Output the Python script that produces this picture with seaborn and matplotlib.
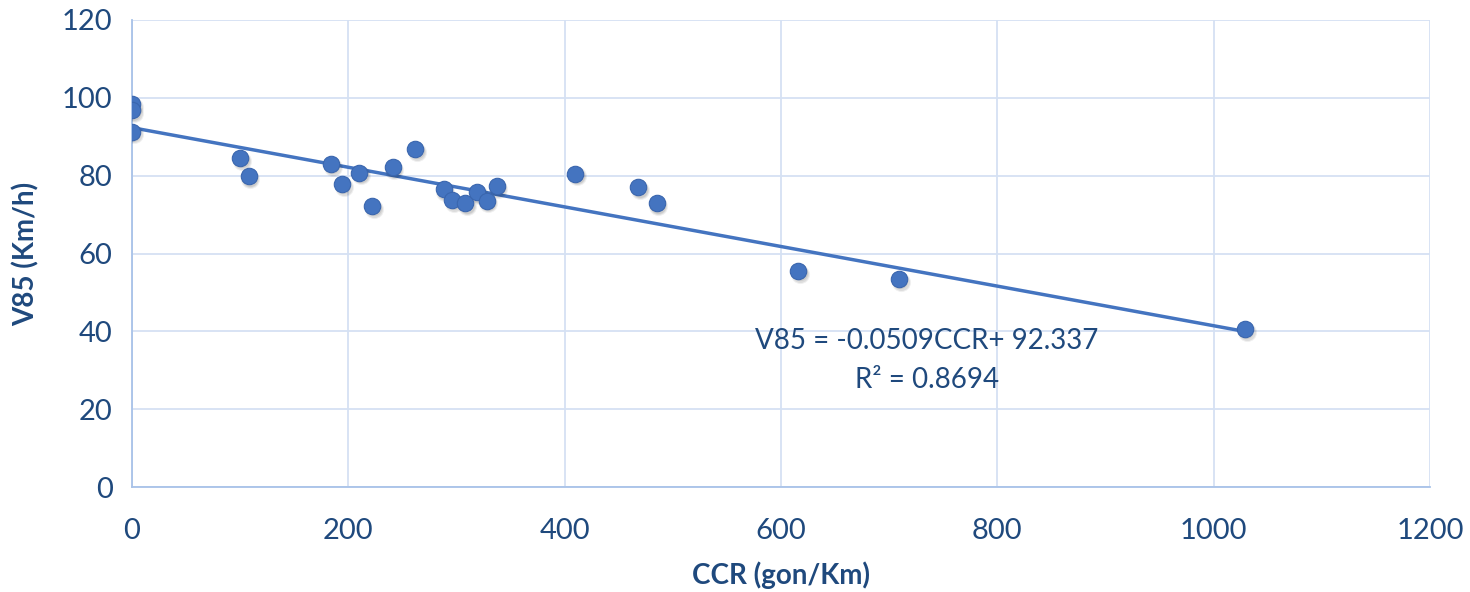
import matplotlib
matplotlib.use("Agg")
import matplotlib.pyplot as plt
import matplotlib.transforms as mtransforms
import numpy as np
import pandas as pd
import seaborn as sns

# ---- data ----
ccr = [0, 0, 0, 100, 108, 184, 194, 210, 222, 241, 262, 288, 296, 308, 319, 328, 337,
       410, 468, 485, 616, 709, 1029]
v85 = [98.4, 96.8, 91.3, 84.5, 79.8, 83.0, 77.8, 80.8, 72.2, 82.1, 86.9, 76.5, 73.8,
       72.9, 75.7, 73.6, 77.4, 80.5, 77.0, 72.9, 55.5, 53.5, 40.6]
slope = -0.0509
intercept = 92.337
r2 = 0.8694
x_ticks = [0, 200, 400, 600, 800, 1000, 1200]
y_ticks = [0, 20, 40, 60, 80, 100, 120]

df = pd.DataFrame({"CCR": ccr, "V85": v85})
fit_x = np.array([min(ccr), max(ccr)], dtype=float)
fit_df = pd.DataFrame({"CCR": fit_x, "V85": intercept + slope * fit_x})

sns.set_theme(style="white")
plt.rcParams["font.family"] = ["Lato", "DejaVu Sans"]

text_color = "#1F497D"
point_color = "#4474C0"
grid_color = "#D5E1F3"

fig = plt.figure(figsize=(14.7, 5.92), dpi=100)
ax = fig.add_axes([132 / 1470, 1 - 487 / 592, (1430 - 132) / 1470, (487 - 20) / 592])

# trendline
sns.lineplot(data=fit_df, x="CCR", y="V85", ax=ax, color=point_color, linewidth=2.5, zorder=3)

# soft shadow of markers
for dx, dy, s, a in [(1.2, -2.0, 190, 0.06), (1.2, -2.0, 150, 0.08), (1.0, -1.6, 120, 0.08)]:
    tr = mtransforms.offset_copy(ax.transData, fig=fig, x=dx, y=dy, units="points")
    ax.scatter(df["CCR"], df["V85"], s=s, color="#000000", alpha=a, linewidths=0,
               transform=tr, zorder=4)
sns.scatterplot(data=df, x="CCR", y="V85", ax=ax, s=140, color=point_color,
                edgecolor="#3A66AE", linewidth=0.8, zorder=5)

ax.set_xlim(0, 1200)
ax.set_ylim(0, 120)
ax.set_xticks(x_ticks)
ax.set_yticks(y_ticks)
ax.grid(True, color=grid_color, linewidth=1.3)
ax.set_axisbelow(True)
for side in ["top", "right"]:
    ax.spines[side].set_visible(False)
for side in ["left", "bottom"]:
    ax.spines[side].set_color("#A8C2E8")
    ax.spines[side].set_linewidth(1.3)

ax.tick_params(axis="both", length=0, labelsize=21, labelcolor=text_color)
ax.tick_params(axis="x", pad=22)
ax.tick_params(axis="y", pad=14)

ax.set_xlabel("CCR (gon/Km)", fontsize=20, fontweight="bold", color=text_color, labelpad=13)
ax.set_ylabel("V85 (Km/h)", fontsize=20, fontweight="bold", color=text_color, labelpad=16)

ax.text(735, 37.5, f"V85 = {slope}CCR+ {intercept}", fontsize=20, color=text_color,
        ha="center", va="center")
ax.text(735, 27.5, f"R² = {r2}", fontsize=20, color=text_color, ha="center", va="center")

fig.savefig("out.png", dpi=100)
